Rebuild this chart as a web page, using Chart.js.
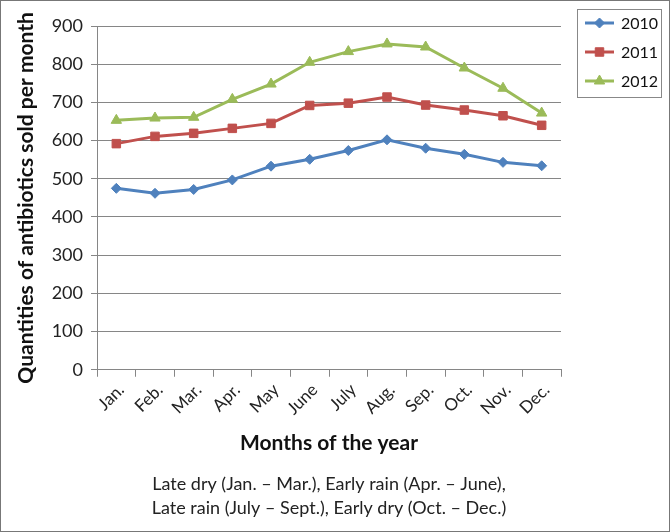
<!DOCTYPE html>
<html>
<head>
<meta charset="utf-8">
<script src="https://cdn.jsdelivr.net/npm/chart.js@4.4.1/dist/chart.umd.min.js"></script>
<style>
  body { margin: 0; background: #fff; }
  canvas { display: block; }
</style>
</head>
<body>
<canvas id="chart" width="670" height="532"></canvas>
<script>
// data
const months = ['Jan.', 'Feb.', 'Mar.', 'Apr.', 'May', 'June', 'July', 'Aug.', 'Sep.', 'Oct.', 'Nov.', 'Dec.'];
const years = ['2010', '2011', '2012'];
const sales2010 = [475, 462, 472, 497, 533, 551, 574, 602, 580, 564, 543, 534];
const sales2011 = [592, 611, 619, 632, 645, 692, 698, 714, 693, 680, 665, 640];
const sales2012 = [653, 659, 661, 708, 748, 805, 833, 853, 845, 790, 737, 672];
const yTicks = [0, 100, 200, 300, 400, 500, 600, 700, 800, 900];

const FONT = 'Lato, "Open Sans", sans-serif';
const GRID = '#868686';

function series(label, data, color, style, radius) {
  return {
    label: label,
    data: data,
    borderColor: color,
    backgroundColor: color,
    borderWidth: 3,
    pointStyle: style,
    pointRadius: radius,
    pointHoverRadius: radius,
    pointBorderWidth: 1,
    pointBorderColor: color,
    tension: 0
  };
}

// legend box on the right, line + marker per series
const boxLegend = {
  id: 'boxLegend',
  afterDraw(chart) {
    const c = chart.ctx;
    c.save();
    c.strokeStyle = '#888';
    c.lineWidth = 1;
    c.strokeRect(577.5, 9.5, 84, 88);
    chart.data.datasets.forEach((ds, i) => {
      const y = 23 + i * 29;
      c.strokeStyle = ds.borderColor;
      c.lineWidth = 3;
      c.beginPath();
      c.moveTo(585, y);
      c.lineTo(614, y);
      c.stroke();
      c.fillStyle = ds.backgroundColor;
      c.lineWidth = 1;
      Chart.helpers.drawPoint(c, { pointStyle: ds.pointStyle, radius: ds.pointRadius, borderWidth: 1 }, 599.5, y);
      c.fillStyle = '#111';
      c.font = '16px ' + FONT;
      c.textBaseline = 'middle';
      c.fillText(ds.label, 621, y + 1);
    });
    // outer frame of the figure
    c.strokeStyle = '#777';
    c.lineWidth = 1;
    c.strokeRect(0.5, 0.5, 669, 531);
    c.restore();
  }
};

new Chart(document.getElementById('chart'), {
  type: 'line',
  data: {
    labels: months,
    datasets: [
      series(years[0], sales2010, '#4F81BD', 'rectRot', 5),
      series(years[1], sales2011, '#C0504D', 'rect', 6),
      series(years[2], sales2012, '#9BBB59', 'triangle', 6)
    ]
  },
  options: {
    responsive: false,
    devicePixelRatio: 1,
    animation: false,
    layout: { padding: { top: 26, right: 109, bottom: 12, left: 11 } },
    plugins: {
      legend: { display: false },
      tooltip: { enabled: false },
      subtitle: {
        display: true,
        position: 'bottom',
        fullSize: false,
        text: ['Late dry (Jan. \u2013 Mar.), Early rain (Apr. \u2013 June),',
               'Late rain (July \u2013 Sept.), Early dry (Oct. \u2013 Dec.)'],
        color: '#222',
        font: { family: FONT, size: 18, lineHeight: 1.34 },
        padding: 0
      }
    },
    scales: {
      x: {
        offset: true,
        afterFit: s => { s.height = 102; },
        grid: {
          offset: true,
          drawOnChartArea: true,
          color: ctx => ctx.index === months.length ? GRID : 'rgba(0,0,0,0)',
          tickColor: GRID,
          tickLength: 7
        },
        border: { color: GRID, width: 1 },
        ticks: {
          color: '#222',
          font: { family: FONT, size: 17 },
          minRotation: 45,
          maxRotation: 45,
          labelOffset: 5,
          padding: 3
        },
        title: {
          display: true,
          text: 'Months of the year',
          color: '#111',
          font: { family: FONT, size: 21, weight: 'bold' },
          padding: { top: 0, bottom: 16 }
        }
      },
      y: {
        min: 0,
        max: 900,
        afterFit: s => { s.width = 86; },
        afterBuildTicks: s => { s.ticks = yTicks.map(v => ({ value: v })); },
        grid: { color: GRID, tickColor: GRID, tickLength: 6 },
        border: { color: GRID, width: 1 },
        ticks: {
          color: '#222',
          font: { family: FONT, size: 18 },
          padding: 8
        },
        title: {
          display: true,
          text: 'Quantities of antibiotics sold per month',
          color: '#111',
          font: { family: FONT, size: 21, weight: 'bold' },
          padding: { top: 3, bottom: 4 }
        }
      }
    }
  },
  plugins: [boxLegend]
});
</script>
</body>
</html>
